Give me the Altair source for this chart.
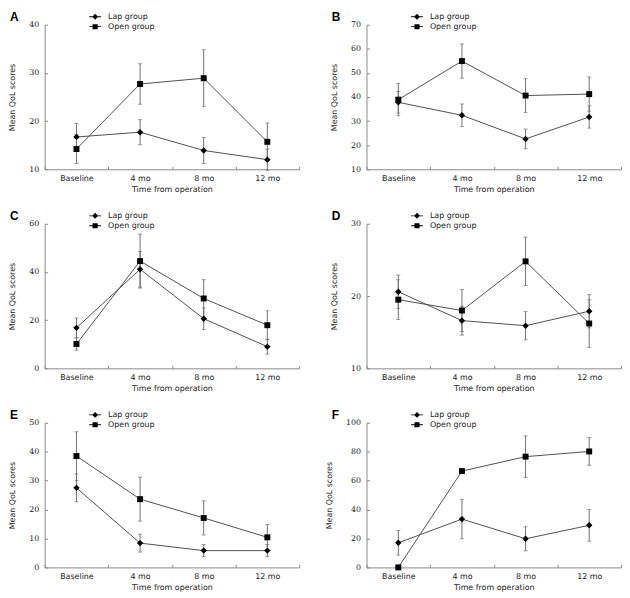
import altair as alt
import pandas as pd

timepoints = ["Baseline", "4 mo", "8 mo", "12 mo"]
groups = ["Lap group", "Open group"]

# Panel A
A_lap = [16.7, 17.7, 13.9, 12.0]
A_lap_err = [2.8, 2.6, 2.7, 2.2]
A_open = [14.2, 27.7, 28.9, 15.7]
A_open_err = [3.0, 4.2, 5.9, 3.9]
# Panel B
B_lap = [37.8, 32.4, 22.6, 31.7]
B_lap_err = [4.5, 4.7, 4.1, 4.6]
B_open = [38.9, 54.9, 40.6, 41.2]
B_open_err = [6.7, 7.1, 7.0, 7.1]
# Panel C
C_lap = [16.8, 41.1, 20.6, 9.0]
C_lap_err = [4.1, 7.4, 4.5, 3.1]
C_open = [10.1, 44.5, 29.0, 17.9]
C_open_err = [2.6, 11.2, 7.8, 6.0]
# Panel D
D_lap = [20.6, 16.6, 15.9, 17.9]
D_lap_err = [2.3, 2.0, 1.95, 2.3]
D_open = [19.5, 18.0, 24.8, 16.2]
D_open_err = [2.75, 2.9, 3.35, 3.3]
# Panel E
E_lap = [27.5, 8.4, 5.8, 5.8]
E_lap_err = [4.8, 3.1, 2.1, 2.1]
E_open = [38.5, 23.6, 17.1, 10.4]
E_open_err = [8.4, 7.6, 5.9, 4.4]
# Panel F
F_lap = [17.0, 33.4, 19.8, 29.1]
F_lap_err = [8.5, 13.6, 8.3, 11.0]
F_open = [0.0, 66.6, 76.6, 80.2]
F_open_err = [0.0, 0.0, 14.4, 9.6]

panel_letters = ["A", "B", "C", "D", "E", "F"]
y_ranges = [(10, 40, 10), (10, 70, 10), (0, 60, 20), (10, 30, 10), (0, 50, 10), (0, 100, 20)]

LINE = "#505050"
ERR = "#707070"
AXIS = "#8a8a8a"
TEXT = "#222222"
SANS = "DejaVu Sans"
SERIF = "DejaVu Serif"

# legend glyphs: short line stub + marker, drawn as filled shapes
LAP_PATH = "M-1,-0.07L1,-0.07L1,0.07L-1,0.07Z M-0.5,0L0,-0.5L0.5,0L0,0.5Z"
OPEN_PATH = "M-1,-0.07L1,-0.07L1,0.07L-1,0.07Z M-0.43,-0.43L0.43,-0.43L0.43,0.43L-0.43,0.43Z"

W, H = 257, 146


def panel(letter, lap, lap_err, opn, opn_err, yr):
    ymin, ymax, step = yr
    rows = []
    for g, m, e in [(groups[0], lap, lap_err), (groups[1], opn, opn_err)]:
        for t, mv, ev in zip(timepoints, m, e):
            rows.append({"time": t, "group": g, "mean": mv,
                         "lo": mv - ev, "hi": mv + ev, "err": ev})
    df = pd.DataFrame(rows)

    x = alt.X("time:N", sort=timepoints,
              scale=alt.Scale(domain=timepoints, paddingInner=0, paddingOuter=0),
              axis=alt.Axis(title="Time from operation", tickBand="extent",
                            labelAngle=0, labelFont=SANS, labelFontSize=8,
                            labelColor=TEXT, labelPadding=8,
                            titleFont=SANS, titleFontSize=8, titleFontWeight="normal",
                            titleColor=TEXT, titlePadding=3,
                            domainColor=AXIS, tickColor=AXIS,
                            tickSize={"expr": "-3"}, grid=False))
    yscale = alt.Scale(domain=[ymin, ymax], nice=False, zero=False)
    yaxis = alt.Axis(values=list(range(ymin, ymax + 1, step)), title="Mean QoL scores",
                     labelFont=SERIF, labelFontSize=8, labelColor=TEXT, labelPadding=9,
                     titleFont=SANS, titleFontSize=8, titleFontWeight="normal",
                     titleColor=TEXT, titlePadding=12,
                     domainColor=AXIS, tickColor=AXIS,
                     tickSize={"expr": "-3"}, grid=False)

    base = alt.Chart(df)
    err_rule = base.transform_filter("datum.err > 0").mark_rule(
        color=ERR, strokeWidth=1).encode(
        x=x, y=alt.Y("lo:Q", scale=yscale, axis=yaxis), y2="hi:Q")
    caps = base.transform_filter("datum.err > 0").transform_fold(
        ["lo", "hi"], as_=["k", "v"]).mark_tick(
        color=ERR, size=4, thickness=1, orient="horizontal").encode(
        x=x, y=alt.Y("v:Q", scale=yscale, axis=yaxis))
    line = base.mark_line(color=LINE, strokeWidth=1).encode(
        x=x, y=alt.Y("mean:Q", scale=yscale, axis=yaxis), detail="group:N")
    pts = base.mark_point(filled=True, opacity=1, color="black").encode(
        x=x, y=alt.Y("mean:Q", scale=yscale, axis=yaxis),
        shape=alt.Shape("group:N", scale=alt.Scale(domain=groups, range=["diamond", "square"]),
                        legend=None),
        size=alt.Size("group:N", scale=alt.Scale(domain=groups, range=[42, 36]), legend=None))
    leg = base.transform_filter("false").mark_point(
        filled=True, opacity=1, color="black").encode(
        x=x, y=alt.Y("mean:Q", scale=yscale, axis=yaxis),
        shape=alt.Shape("group:N", scale=alt.Scale(domain=groups, range=[LAP_PATH, OPEN_PATH]),
                        legend=alt.Legend(
                            title=None, orient="none", legendX=45, legendY=-14,
                            labelFont=SANS, labelFontSize=8, labelColor=TEXT,
                            symbolSize=144, symbolStrokeWidth=0,
                            symbolFillColor="black", symbolOpacity=1,
                            rowPadding=0, labelOffset=7, padding=0)))
    lab = alt.Chart(pd.DataFrame({"panel": [letter]})).mark_text(
        font="Liberation Sans", fontWeight="bold", fontSize=12, align="left",
        baseline="middle", color="black").encode(
        text="panel:N", x=alt.value(-35), y=alt.value(-8))

    return alt.layer(err_rule, caps, line, pts, leg, lab).resolve_scale(
        shape="independent", size="independent").properties(width=W, height=H)


data_sets = [
    (A_lap, A_lap_err, A_open, A_open_err),
    (B_lap, B_lap_err, B_open, B_open_err),
    (C_lap, C_lap_err, C_open, C_open_err),
    (D_lap, D_lap_err, D_open, D_open_err),
    (E_lap, E_lap_err, E_open, E_open_err),
    (F_lap, F_lap_err, F_open, F_open_err),
]

panels = [panel(l, *d, yr) for l, d, yr in zip(panel_letters, data_sets, y_ranges)]

chart = alt.ConcatChart(
    concat=panels, columns=2, spacing={"row": 55, "column": 68}, bounds="flush",
    padding={"left": 0, "top": 0, "right": 0, "bottom": 0}, background="white",
).configure_view(strokeWidth=0, stroke="transparent")

chart.save("out.html", embed_options={"renderer": "svg", "actions": False})
